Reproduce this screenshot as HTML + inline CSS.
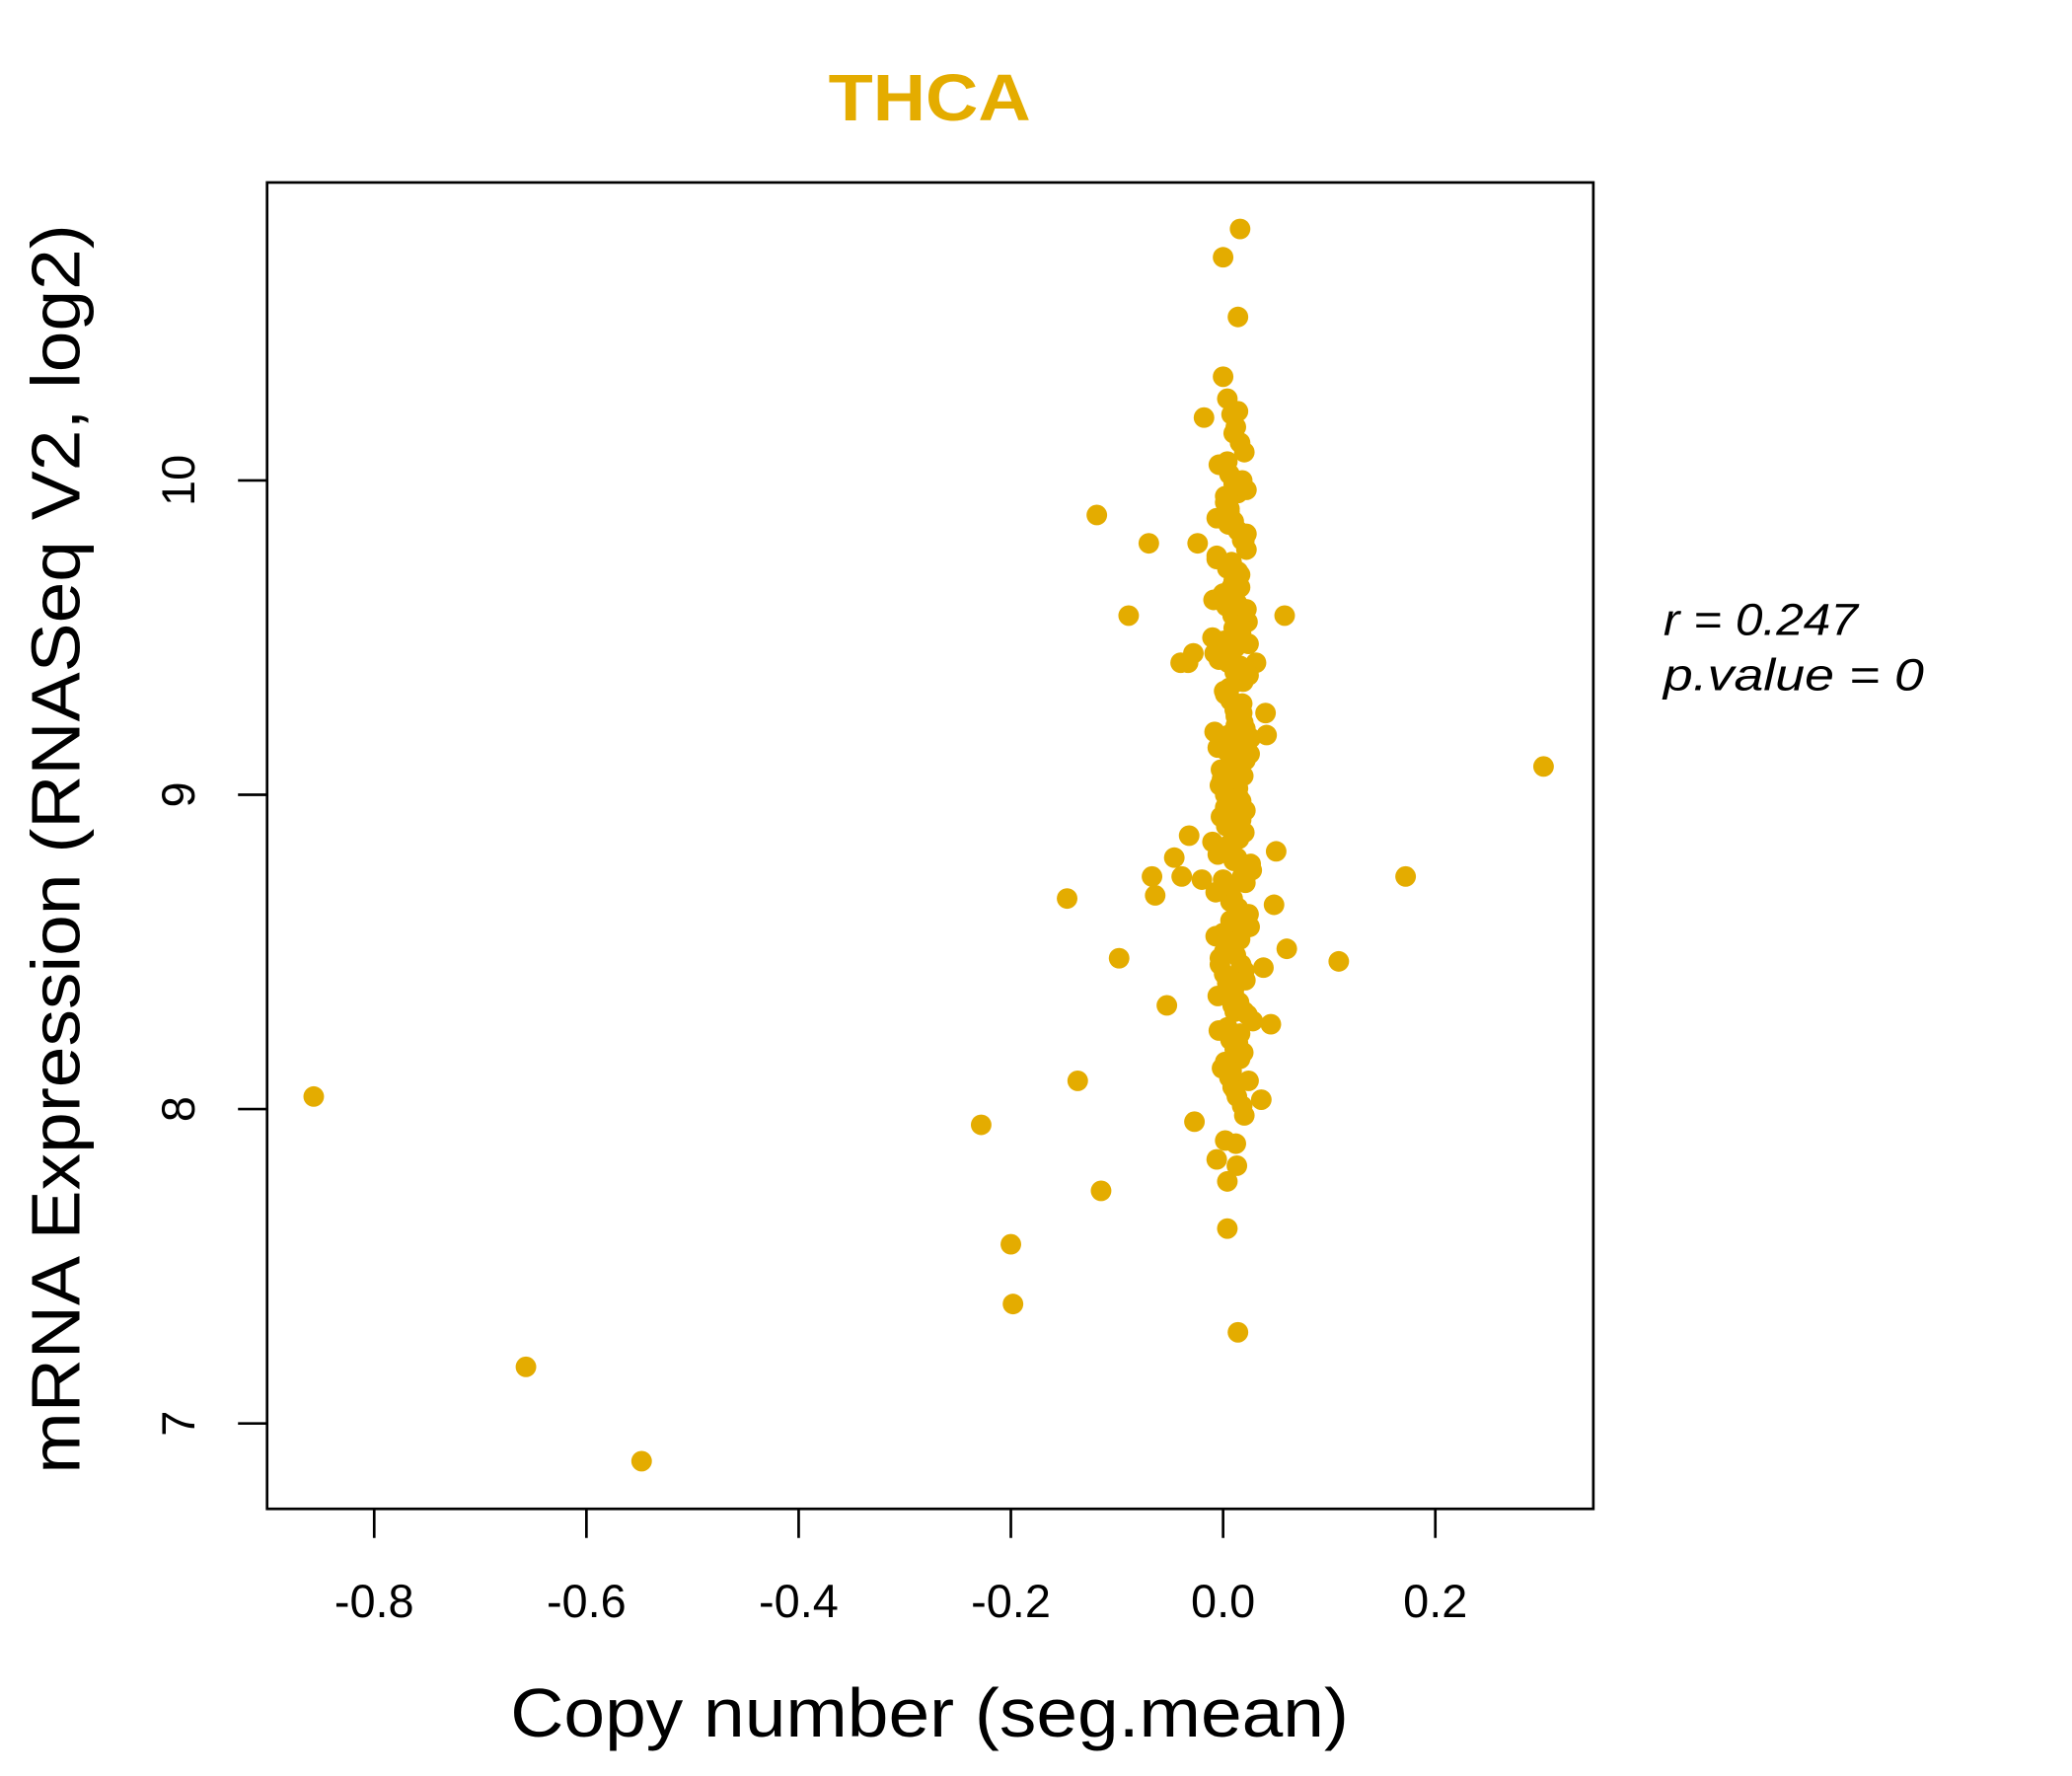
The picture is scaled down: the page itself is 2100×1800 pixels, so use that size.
<!DOCTYPE html>
<html><head><meta charset="utf-8"><style>html,body{margin:0;padding:0;background:#fff}svg{display:block}</style></head>
<body>
<svg id="chart" width="2100" height="1800" viewBox="0 0 1567 1343" preserveAspectRatio="none" xmlns="http://www.w3.org/2000/svg" font-family="Liberation Sans, Arial, sans-serif">
<rect width="1567" height="1343" fill="#fff"/>
<text x="703" y="91" text-anchor="middle" font-size="50" font-weight="bold" fill="#E4AC00" textLength="153" lengthAdjust="spacingAndGlyphs">THCA</text>
<rect x="202" y="138" width="1003" height="1003" fill="none" stroke="#000" stroke-width="2"/>
<g id="xaxis"></g>
<g id="yaxis"></g>
<g id="points"></g>
<text x="703" y="1313" text-anchor="middle" font-size="52" textLength="634" lengthAdjust="spacingAndGlyphs">Copy number (seg.mean)</text>
<text transform="translate(60,642) rotate(-90)" text-anchor="middle" font-size="52" textLength="945" lengthAdjust="spacingAndGlyphs">mRNA Expression (RNASeq V2, log2)</text>
<text x="1258" y="480" font-size="34" font-style="italic" textLength="147" lengthAdjust="spacingAndGlyphs">r = 0.247</text>
<text x="1258" y="522" font-size="34" font-style="italic" textLength="197" lengthAdjust="spacingAndGlyphs">p.value = 0</text>
</svg>
<script>
const xTicks = [-0.8, -0.6, -0.4, -0.2, 0.0, 0.2];
const xTickLabels = ["-0.8", "-0.6", "-0.4", "-0.2", "0.0", "0.2"];
const yTicks = [7, 8, 9, 10];
const yTickLabels = ["7", "8", "9", "10"];
const outX = [-0.857,-0.657,-0.548,-0.228,-0.200,-0.198,-0.147,-0.137,-0.119,-0.115,-0.098,-0.089,-0.070,-0.067,-0.064,-0.053,-0.046,-0.040,-0.039,-0.033,-0.032,-0.028,-0.027,-0.024,-0.020,-0.018,0.302,0.172,0.109,0.058,0.060,0.050,0.048,0.045,0.041,0.040,0.038,0.036,0.031,0.016,0.000,0.014,0.014,0.004,0.004,0.013,-0.006,0.012,0.002,0.020];
const outY = [8.04,7.18,6.88,7.95,7.57,7.38,8.67,8.09,9.89,7.74,8.48,9.57,9.80,8.74,8.68,8.33,8.80,9.42,8.74,9.42,8.87,9.45,7.96,9.80,8.73,10.20,9.09,8.74,8.47,9.57,8.51,8.82,8.65,8.27,9.19,9.26,8.45,8.03,9.42,10.80,10.71,10.52,7.29,7.62,7.77,7.82,7.84,7.89,7.90,7.98];
const coreX = [
0.000,0.004,0.008,0.012,0.016,0.020,-0.004,0.006,0.010,0.014,
0.002,0.006,0.010,0.014,0.018,0.022,-0.006,0.004,0.012,0.016,
-0.002,0.003,0.009,0.013,0.017,0.024,-0.008,0.005,0.011,0.019,
0.001,0.007,0.011,0.015,0.021,0.026,-0.005,0.008,0.013,0.018,
-0.003,0.002,0.008,0.012,0.016,0.020,-0.010,0.006,0.010,0.023,
0.000,0.005,0.009,0.014,0.019,0.025,-0.007,0.003,0.012,0.017,
0.001,0.004,0.010,0.015,0.020,0.028,-0.004,0.007,0.011,0.016,
-0.001,0.006,0.009,0.013,0.018,0.022,-0.009,0.002,0.014,0.021,
0.003,0.005,0.011,0.012,0.017,0.024,-0.006,0.008,0.010,0.015,
0.000,0.004,0.008,0.013,0.019,0.027,-0.003,0.006,0.012,0.018,
0.002,0.007,0.010,0.014,0.016,0.021,-0.005,0.004,0.011,0.020,
0.001,0.005,0.009,0.012,0.018,0.023,-0.002,0.006,0.013,0.017,
0.014,0.018,0.002,-0.006,0.022,0.008,0.016,0.000,0.020,0.010,
0.012,-0.004,0.024,0.006,0.015,0.019,-0.008,0.003,0.017,0.011,
0.009,0.021,-0.002,0.013,0.005,0.026,0.018,-0.007,0.015,0.007,
0.016,0.001,0.020,0.011,-0.005,0.023,0.004,0.014,0.019,0.008,
0.010,0.022,-0.010,0.017,0.006,0.012,0.025,-0.001,0.015,0.003,
0.013,0.007,0.019,-0.003,0.021,0.009,0.016,0.002,0.024,0.011];
const coreY = [
10.33,10.26,10.21,10.17,10.12,10.09,10.05,10.02,9.99,9.96,
9.93,9.90,9.87,9.84,9.81,9.78,9.75,9.72,9.69,9.66,
9.63,9.60,9.57,9.54,9.51,9.48,9.45,9.42,9.39,9.36,
9.33,9.30,9.27,9.24,9.21,9.18,9.15,9.12,9.09,9.06,
9.03,9.00,8.97,8.94,8.91,8.88,8.85,8.82,8.79,8.76,
8.73,8.70,8.67,8.64,8.61,8.58,8.55,8.52,8.49,8.46,
8.43,8.40,8.37,8.34,8.31,8.28,8.25,8.22,8.19,8.16,
8.13,8.10,8.07,8.04,8.01,9.97,9.62,9.32,9.02,8.72,
8.42,9.86,9.52,9.22,8.92,8.62,9.76,9.46,9.16,8.86,
8.56,10.06,9.66,9.36,9.06,8.76,8.46,9.91,9.56,9.26,
8.96,8.66,10.15,9.71,9.41,9.11,8.81,8.51,8.31,9.81,
9.49,9.19,8.89,8.59,9.29,9.55,9.08,8.83,9.61,8.98,
10.22,10.00,9.95,9.88,9.83,9.74,9.70,9.64,9.58,9.53,
9.47,9.43,9.38,9.34,9.28,9.23,9.20,9.14,9.10,9.04,
9.01,8.95,8.93,8.87,8.84,8.78,8.74,8.69,8.63,8.60,
8.54,8.50,8.44,8.39,8.36,8.30,8.26,8.21,8.18,8.12,
9.68,9.59,9.50,9.40,9.31,9.25,9.13,9.05,8.99,8.90,
8.80,8.71,8.57,8.48,8.41,8.33,8.24,8.15,8.09,8.06];
const X0 = 925, XS = 802.5, Y9 = 601, YS = 237.7;
function xPos(v){ return X0 + v*XS; }
function yPos(v){ return Y9 - (v-9)*YS; }
const NS = "http://www.w3.org/2000/svg";
const xa = document.getElementById('xaxis');
const ya = document.getElementById('yaxis');
const pg = document.getElementById('points');
xTicks.forEach((t,i)=>{
  const ln = document.createElementNS(NS,'line');
  
  
  ln.setAttribute('x1',xPos(t)); ln.setAttribute('x2',xPos(t));
  ln.setAttribute('y1',1141); ln.setAttribute('y2',1163);
  ln.setAttribute('stroke','#000'); ln.setAttribute('stroke-width','2');
  xa.appendChild(ln);
  const tx = document.createElementNS(NS,'text');
  
  
  tx.setAttribute('x',xPos(t)); tx.setAttribute('y',1223);
  tx.setAttribute('text-anchor','middle'); tx.setAttribute('font-size','35');
  tx.textContent = xTickLabels[i];
  xa.appendChild(tx);
});
yTicks.forEach((t,i)=>{
  const ln = document.createElementNS(NS,'line');
  
  
  ln.setAttribute('x1',180); ln.setAttribute('x2',202);
  ln.setAttribute('y1',yPos(t)); ln.setAttribute('y2',yPos(t));
  ln.setAttribute('stroke','#000'); ln.setAttribute('stroke-width','2');
  ya.appendChild(ln);
  const tx = document.createElementNS(NS,'text');
  
  
  tx.setAttribute('transform','translate(147,'+yPos(t)+') rotate(-90)');
  tx.setAttribute('text-anchor','middle'); tx.setAttribute('font-size','35');
  tx.textContent = yTickLabels[i];
  ya.appendChild(tx);
});
function drawPoints(xs, ys){
  const n = Math.min(xs.length, ys.length);
  for (let i=0;i<n;i++){
    const c = document.createElementNS(NS,'circle');
    
    
    c.setAttribute('cx',xPos(xs[i])); c.setAttribute('cy',yPos(ys[i]));
    c.setAttribute('r',7.8); c.setAttribute('fill','#E4AC00');
    pg.appendChild(c);
  }
}
drawPoints(outX, outY);
drawPoints(coreX, coreY);
</script>
</body></html>
